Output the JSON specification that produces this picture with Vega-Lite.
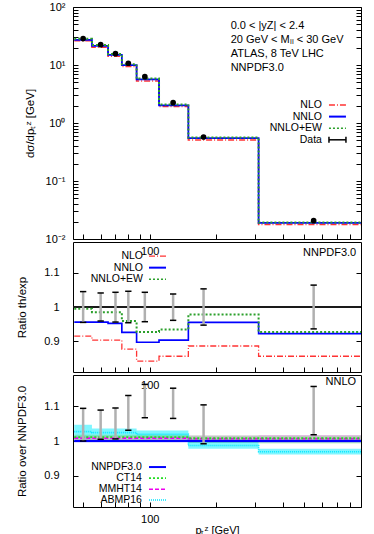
{
  "$schema": "https://vega.github.io/schema/vega-lite/v6.json",
  "padding": {"left": 16, "top": 0, "right": 0, "bottom": 0},
  "bounds": "flush",
  "spacing": 3,
  "datasets": {
    "th": [
      {"x": 45.6, "model": "NLO", "v": 26.1}, {"x": 54.8, "model": "NLO", "v": 20.2}, {"x": 64.8, "model": "NLO", "v": 14.2}, {"x": 74.8, "model": "NLO", "v": 9.38}, {"x": 87.2, "model": "NLO", "v": 5.30}, {"x": 110.1, "model": "NLO", "v": 1.92}, {"x": 149.4, "model": "NLO", "v": 0.509}, {"x": 310.2, "model": "NLO", "v": 0.0177}, {"x": 900, "model": "NLO", "v": 0.0177},
      {"x": 45.6, "model": "NNLO", "v": 27.2}, {"x": 54.8, "model": "NNLO", "v": 21.4}, {"x": 64.8, "model": "NNLO", "v": 14.9}, {"x": 74.8, "model": "NNLO", "v": 9.91}, {"x": 87.2, "model": "NNLO", "v": 5.65}, {"x": 110.1, "model": "NNLO", "v": 2.02}, {"x": 149.4, "model": "NNLO", "v": 0.548}, {"x": 310.2, "model": "NNLO", "v": 0.0190}, {"x": 900, "model": "NNLO", "v": 0.0190},
      {"x": 45.6, "model": "NNLO+EW", "v": 28.4}, {"x": 54.8, "model": "NNLO+EW", "v": 22.1}, {"x": 64.8, "model": "NNLO+EW", "v": 15.5}, {"x": 74.8, "model": "NNLO+EW", "v": 10.3}, {"x": 87.2, "model": "NNLO+EW", "v": 5.84}, {"x": 110.1, "model": "NNLO+EW", "v": 2.09}, {"x": 149.4, "model": "NNLO+EW", "v": 0.561}, {"x": 310.2, "model": "NNLO+EW", "v": 0.0192}, {"x": 900, "model": "NNLO+EW", "v": 0.0192}
    ],
    "rat": [
      {"x": 45.6, "model": "NLO", "r": 0.915}, {"x": 54.8, "model": "NLO", "r": 0.903}, {"x": 64.8, "model": "NLO", "r": 0.903}, {"x": 74.8, "model": "NLO", "r": 0.877}, {"x": 87.2, "model": "NLO", "r": 0.842}, {"x": 110.1, "model": "NLO", "r": 0.856}, {"x": 149.4, "model": "NLO", "r": 0.886}, {"x": 310.2, "model": "NLO", "r": 0.856}, {"x": 900, "model": "NLO", "r": 0.856},
      {"x": 45.6, "model": "NNLO", "r": 0.956}, {"x": 54.8, "model": "NNLO", "r": 0.956}, {"x": 64.8, "model": "NNLO", "r": 0.952}, {"x": 74.8, "model": "NNLO", "r": 0.926}, {"x": 87.2, "model": "NNLO", "r": 0.897}, {"x": 110.1, "model": "NNLO", "r": 0.903}, {"x": 149.4, "model": "NNLO", "r": 0.955}, {"x": 310.2, "model": "NNLO", "r": 0.922}, {"x": 900, "model": "NNLO", "r": 0.922},
      {"x": 45.6, "model": "NNLO+EW", "r": 0.995}, {"x": 54.8, "model": "NNLO+EW", "r": 0.985}, {"x": 64.8, "model": "NNLO+EW", "r": 0.985}, {"x": 74.8, "model": "NNLO+EW", "r": 0.959}, {"x": 87.2, "model": "NNLO+EW", "r": 0.927}, {"x": 110.1, "model": "NNLO+EW", "r": 0.934}, {"x": 149.4, "model": "NNLO+EW", "r": 0.978}, {"x": 310.2, "model": "NNLO+EW", "r": 0.927}, {"x": 900, "model": "NNLO+EW", "r": 0.927}
    ],
    "pts": [
      {"x": 50, "v": 28.5, "lo": 0.955, "hi": 1.045, "c": 1.046, "clo": 1.0, "chi": 1.094},
      {"x": 60, "v": 22.4, "lo": 0.959, "hi": 1.041, "c": 1.046, "clo": 1.005, "chi": 1.089},
      {"x": 70, "v": 15.7, "lo": 0.956, "hi": 1.043, "c": 1.05, "clo": 1.006, "chi": 1.095},
      {"x": 80, "v": 10.7, "lo": 0.954, "hi": 1.046, "c": 1.08, "clo": 1.031, "chi": 1.131},
      {"x": 95, "v": 6.3, "lo": 0.957, "hi": 1.043, "c": 1.115, "clo": 1.067, "chi": 1.163},
      {"x": 127.5, "v": 2.24, "lo": 0.961, "hi": 1.038, "c": 1.107, "clo": 1.065, "chi": 1.152},
      {"x": 175, "v": 0.574, "lo": 0.947, "hi": 1.053, "c": 1.047, "clo": 0.992, "chi": 1.104},
      {"x": 550, "v": 0.0207, "lo": 0.936, "hi": 1.064, "c": 1.087, "clo": 1.018, "chi": 1.157}
    ],
    "pdf": [
      {"x": 45.6, "pdf": "ABMP16", "c": 1.027, "lo": 1.007, "hi": 1.047}, {"x": 54.8, "pdf": "ABMP16", "c": 1.024, "lo": 1.012, "hi": 1.036}, {"x": 64.8, "pdf": "ABMP16", "c": 1.024, "lo": 1.012, "hi": 1.036}, {"x": 74.8, "pdf": "ABMP16", "c": 1.024, "lo": 1.012, "hi": 1.036}, {"x": 87.2, "pdf": "ABMP16", "c": 1.019, "lo": 1.008, "hi": 1.03}, {"x": 110.1, "pdf": "ABMP16", "c": 1.019, "lo": 1.008, "hi": 1.03}, {"x": 149.4, "pdf": "ABMP16", "c": 0.987, "lo": 0.978, "hi": 0.997}, {"x": 310.2, "pdf": "ABMP16", "c": 0.969, "lo": 0.961, "hi": 0.978}, {"x": 900, "pdf": "ABMP16", "c": 0.969, "lo": 0.961, "hi": 0.978},
      {"x": 45.6, "pdf": "MMHT14", "c": 1.008, "lo": 1.001, "hi": 1.015}, {"x": 54.8, "pdf": "MMHT14", "c": 1.008, "lo": 1.001, "hi": 1.015}, {"x": 64.8, "pdf": "MMHT14", "c": 1.008, "lo": 1.001, "hi": 1.015}, {"x": 74.8, "pdf": "MMHT14", "c": 1.008, "lo": 1.001, "hi": 1.015}, {"x": 87.2, "pdf": "MMHT14", "c": 1.008, "lo": 1.001, "hi": 1.015}, {"x": 110.1, "pdf": "MMHT14", "c": 1.008, "lo": 1.001, "hi": 1.015}, {"x": 149.4, "pdf": "MMHT14", "c": 1.007, "lo": 0.998, "hi": 1.016}, {"x": 310.2, "pdf": "MMHT14", "c": 1.007, "lo": 0.998, "hi": 1.017}, {"x": 900, "pdf": "MMHT14", "c": 1.007, "lo": 0.998, "hi": 1.017},
      {"x": 45.6, "pdf": "CT14", "c": 1.011, "lo": 0.999, "hi": 1.018}, {"x": 54.8, "pdf": "CT14", "c": 1.011, "lo": 0.999, "hi": 1.018}, {"x": 64.8, "pdf": "CT14", "c": 1.011, "lo": 0.999, "hi": 1.018}, {"x": 74.8, "pdf": "CT14", "c": 1.011, "lo": 0.999, "hi": 1.018}, {"x": 87.2, "pdf": "CT14", "c": 1.011, "lo": 0.999, "hi": 1.018}, {"x": 110.1, "pdf": "CT14", "c": 1.011, "lo": 0.999, "hi": 1.018}, {"x": 149.4, "pdf": "CT14", "c": 1.008, "lo": 0.994, "hi": 1.016}, {"x": 310.2, "pdf": "CT14", "c": 1.008, "lo": 0.993, "hi": 1.016}, {"x": 900, "pdf": "CT14", "c": 1.008, "lo": 0.993, "hi": 1.016},
      {"x": 45.6, "pdf": "NNPDF3.0", "c": 1.0, "lo": 0.996, "hi": 1.004}, {"x": 54.8, "pdf": "NNPDF3.0", "c": 1.0, "lo": 0.996, "hi": 1.004}, {"x": 64.8, "pdf": "NNPDF3.0", "c": 1.0, "lo": 0.996, "hi": 1.004}, {"x": 74.8, "pdf": "NNPDF3.0", "c": 1.0, "lo": 0.996, "hi": 1.004}, {"x": 87.2, "pdf": "NNPDF3.0", "c": 1.0, "lo": 0.996, "hi": 1.004}, {"x": 110.1, "pdf": "NNPDF3.0", "c": 1.0, "lo": 0.996, "hi": 1.004}, {"x": 149.4, "pdf": "NNPDF3.0", "c": 1.0, "lo": 0.995, "hi": 1.005}, {"x": 310.2, "pdf": "NNPDF3.0", "c": 1.0, "lo": 0.995, "hi": 1.005}, {"x": 900, "pdf": "NNPDF3.0", "c": 1.0, "lo": 0.995, "hi": 1.005}
    ]
  },
  "vconcat": [
    {
      "width": 288, "height": 232,
      "resolve": {"axis": {"y": "independent"}},
      "layer": [
        {
          "data": {"name": "th"},
          "mark": {"type": "line", "interpolate": "step-after"},
          "encoding": {
            "x": {"field": "x", "type": "quantitative", "scale": {"type": "log", "domain": [45, 900], "nice": false},
                  "axis": {"values": [50, 60, 70, 80, 90, 100, 200, 300, 400, 500, 600, 700, 800, 900], "labelExpr": "datum.value == 100 ? '100' : ''", "title": null, "labelPadding": 11}},
            "y": {"field": "v", "type": "quantitative", "scale": {"type": "log", "domain": [0.01, 100], "nice": false},
                  "axis": {"values": [0.01, 0.02, 0.03, 0.04, 0.05, 0.06, 0.07, 0.08, 0.09, 0.1, 0.2, 0.3, 0.4, 0.5, 0.6, 0.7, 0.8, 0.9, 1, 2, 3, 4, 5, 6, 7, 8, 9, 10, 20, 30, 40, 50, 60, 70, 80, 90, 100],
                           "labelExpr": "datum.value == 100 ? '10²' : datum.value == 10 ? '10¹' : datum.value == 1 ? '10⁰' : datum.value == 0.1 ? '10⁻¹' : datum.value == 0.01 ? '10⁻²' : ''",
                           "title": "dσ/dpₜᶻ [GeV]", "labelPadding": 13, "titlePadding": 10, "orient": "left"}},
            "color": {"field": "model", "type": "nominal", "scale": {"domain": ["NLO", "NNLO", "NNLO+EW"], "range": ["#ff3333", "#0000ff", "#2ca02c"]}, "legend": null},
            "strokeDash": {"field": "model", "type": "nominal", "scale": {"domain": ["NLO", "NNLO", "NNLO+EW"], "range": [[6, 2, 1, 2], [1, 0], [2, 2]]}, "legend": null},
            "strokeWidth": {"field": "model", "type": "nominal", "scale": {"domain": ["NLO", "NNLO", "NNLO+EW"], "range": [1.5, 2, 1.6]}, "legend": null}
          }
        },
        {
          "data": {"name": "pts"},
          "mark": {"type": "point", "filled": true, "size": 32, "color": "black", "opacity": 1},
          "encoding": {
            "x": {"field": "x", "type": "quantitative"},
            "y": {"field": "v", "type": "quantitative",
                  "axis": {"orient": "right", "labels": false, "title": null, "values": [0.01, 0.02, 0.03, 0.04, 0.05, 0.06, 0.07, 0.08, 0.09, 0.1, 0.2, 0.3, 0.4, 0.5, 0.6, 0.7, 0.8, 0.9, 1, 2, 3, 4, 5, 6, 7, 8, 9, 10, 20, 30, 40, 50, 60, 70, 80, 90, 100]}}
          }
        },
        {
          "data": {"values": [{}]},
          "mark": {"type": "text", "align": "left", "baseline": "top", "lineHeight": 14, "fontSize": 11, "text": ["0.0 < |yZ| < 2.4", "20 GeV < Mₗₗ < 30 GeV", "ATLAS, 8 TeV LHC", "NNPDF3.0"]},
          "encoding": {"x": {"datum": 232, "type": "quantitative"}, "y": {"datum": 59.7, "type": "quantitative", "axis": null}}
        },
        {"data": {"values": [{}]}, "mark": {"type": "text", "align": "right", "baseline": "middle", "fontSize": 10.5, "text": "NLO"},
         "encoding": {"x": {"datum": 599.6, "type": "quantitative"}, "y": {"datum": 2.043, "type": "quantitative", "axis": null}}},
        {"data": {"values": [{}]}, "mark": {"type": "text", "align": "right", "baseline": "middle", "fontSize": 10.5, "text": "NNLO"},
         "encoding": {"x": {"datum": 599.6, "type": "quantitative"}, "y": {"datum": 1.289, "type": "quantitative", "axis": null}}},
        {"data": {"values": [{}]}, "mark": {"type": "text", "align": "right", "baseline": "middle", "fontSize": 10.5, "text": "NNLO+EW"},
         "encoding": {"x": {"datum": 599.6, "type": "quantitative"}, "y": {"datum": 0.813, "type": "quantitative", "axis": null}}},
        {"data": {"values": [{}]}, "mark": {"type": "text", "align": "right", "baseline": "middle", "fontSize": 10.5, "text": "Data"},
         "encoding": {"x": {"datum": 599.6, "type": "quantitative"}, "y": {"datum": 0.513, "type": "quantitative", "axis": null}}},
        {"data": {"values": [{}]}, "mark": {"type": "rule", "color": "#ff3333", "strokeWidth": 1.5, "strokeDash": [6, 2, 1, 2]},
         "encoding": {"x": {"datum": 645, "type": "quantitative"}, "x2": {"datum": 769.6}, "y": {"datum": 2.043, "type": "quantitative", "axis": null}}},
        {"data": {"values": [{}]}, "mark": {"type": "rule", "color": "#0000ff", "strokeWidth": 2},
         "encoding": {"x": {"datum": 645, "type": "quantitative"}, "x2": {"datum": 769.6}, "y": {"datum": 1.289, "type": "quantitative", "axis": null}}},
        {"data": {"values": [{}]}, "mark": {"type": "rule", "color": "#2ca02c", "strokeWidth": 1.6, "strokeDash": [2, 2]},
         "encoding": {"x": {"datum": 645, "type": "quantitative"}, "x2": {"datum": 769.6}, "y": {"datum": 0.813, "type": "quantitative", "axis": null}}},
        {"data": {"values": [{}]}, "mark": {"type": "rule", "color": "black", "strokeWidth": 1.5},
         "encoding": {"x": {"datum": 645, "type": "quantitative"}, "x2": {"datum": 769.6}, "y": {"datum": 0.513, "type": "quantitative", "axis": null}}},
        {"data": {"values": [{}]}, "mark": {"type": "point", "shape": "M0,-1L0,1", "size": 36, "color": "black", "strokeWidth": 1.5, "opacity": 1},
         "encoding": {"x": {"datum": 645, "type": "quantitative"}, "y": {"datum": 0.513, "type": "quantitative", "axis": null}}},
        {"data": {"values": [{}]}, "mark": {"type": "point", "shape": "M0,-1L0,1", "size": 36, "color": "black", "strokeWidth": 1.5, "opacity": 1},
         "encoding": {"x": {"datum": 769.6, "type": "quantitative"}, "y": {"datum": 0.513, "type": "quantitative", "axis": null}}}
      ]
    },
    {
      "width": 288, "height": 130,
      "resolve": {"axis": {"y": "independent"}},
      "layer": [
        {
          "data": {"values": [{}]},
          "mark": {"type": "rule", "color": "#1a1a1a", "strokeWidth": 2},
          "encoding": {"y": {"datum": 1, "type": "quantitative", "axis": null}}
        },
        {
          "data": {"name": "rat"},
          "mark": {"type": "line", "interpolate": "step-after"},
          "encoding": {
            "x": {"field": "x", "type": "quantitative", "scale": {"type": "log", "domain": [45, 900], "nice": false},
                  "axis": {"values": [50, 60, 70, 80, 90, 100, 200, 300, 400, 500, 600, 700, 800, 900], "labelExpr": "datum.value == 100 ? '100' : ''", "title": null, "labelPadding": 12}},
            "y": {"field": "r", "type": "quantitative", "scale": {"domain": [0.81, 1.19], "nice": false, "zero": false},
                  "axis": {"values": [0.9, 1, 1.1], "labelExpr": "datum.value == 1 ? '1' : format(datum.value, '.1f')", "title": "Ratio th/exp", "labelPadding": 19, "titlePadding": 16, "orient": "left"}},
            "color": {"field": "model", "type": "nominal", "scale": {"domain": ["NLO", "NNLO", "NNLO+EW"], "range": ["#ff3333", "#0000ff", "#2ca02c"]}, "legend": null},
            "strokeDash": {"field": "model", "type": "nominal", "scale": {"domain": ["NLO", "NNLO", "NNLO+EW"], "range": [[6, 2, 1, 2], [1, 0], [2, 2]]}, "legend": null},
            "strokeWidth": {"field": "model", "type": "nominal", "scale": {"domain": ["NLO", "NNLO", "NNLO+EW"], "range": [1.3, 2, 1.6]}, "legend": null}
          }
        },
        {
          "data": {"name": "pts"},
          "mark": {"type": "rule", "color": "#b0b0b0", "strokeWidth": 2.5},
          "encoding": {"x": {"field": "x", "type": "quantitative"}, "y": {"field": "lo", "type": "quantitative", "axis": null}, "y2": {"field": "hi"}}
        },
        {
          "data": {"name": "pts"},
          "mark": {"type": "point", "shape": "stroke", "size": 40, "color": "black", "strokeWidth": 1.5, "opacity": 1},
          "encoding": {"x": {"field": "x", "type": "quantitative"}, "y": {"field": "lo", "type": "quantitative", "axis": null}}
        },
        {
          "data": {"name": "pts"},
          "mark": {"type": "point", "shape": "stroke", "size": 40, "color": "black", "strokeWidth": 1.5, "opacity": 1},
          "encoding": {"x": {"field": "x", "type": "quantitative"}, "y": {"field": "hi", "type": "quantitative", "axis": {"orient": "right", "labels": false, "title": null, "values": [0.9, 1, 1.1]}}}
        },
        {
          "data": {"values": [{}]},
          "mark": {"type": "text", "align": "right", "baseline": "middle", "fontSize": 11, "text": "NNPDF3.0"},
          "encoding": {"x": {"datum": 856, "type": "quantitative"}, "y": {"datum": 1.159, "type": "quantitative", "axis": null}}
        },
        {"data": {"values": [{}]}, "mark": {"type": "text", "align": "right", "baseline": "middle", "fontSize": 10.5, "text": "NLO"},
         "encoding": {"x": {"datum": 93.2, "type": "quantitative"}, "y": {"datum": 1.149, "type": "quantitative", "axis": null}}},
        {"data": {"values": [{}]}, "mark": {"type": "text", "align": "right", "baseline": "middle", "fontSize": 10.5, "text": "NNLO"},
         "encoding": {"x": {"datum": 93.2, "type": "quantitative"}, "y": {"datum": 1.115, "type": "quantitative", "axis": null}}},
        {"data": {"values": [{}]}, "mark": {"type": "text", "align": "right", "baseline": "middle", "fontSize": 10.5, "text": "NNLO+EW"},
         "encoding": {"x": {"datum": 93.2, "type": "quantitative"}, "y": {"datum": 1.081, "type": "quantitative", "axis": null}}},
        {"data": {"values": [{}]}, "mark": {"type": "rule", "color": "#ff3333", "strokeWidth": 1.3, "strokeDash": [6, 2, 1, 2]},
         "encoding": {"x": {"datum": 99.2, "type": "quantitative"}, "x2": {"datum": 118.4}, "y": {"datum": 1.149, "type": "quantitative", "axis": null}}},
        {"data": {"values": [{}]}, "mark": {"type": "rule", "color": "#0000ff", "strokeWidth": 2},
         "encoding": {"x": {"datum": 99.2, "type": "quantitative"}, "x2": {"datum": 118.4}, "y": {"datum": 1.115, "type": "quantitative", "axis": null}}},
        {"data": {"values": [{}]}, "mark": {"type": "rule", "color": "#2ca02c", "strokeWidth": 1.6, "strokeDash": [2, 2]},
         "encoding": {"x": {"datum": 99.2, "type": "quantitative"}, "x2": {"datum": 118.4}, "y": {"datum": 1.081, "type": "quantitative", "axis": null}}}
      ]
    },
    {
      "width": 288, "height": 132,
      "resolve": {"axis": {"y": "independent"}},
      "layer": [
        {
          "data": {"name": "pdf"},
          "transform": [{"filter": "datum.pdf == 'ABMP16'"}],
          "mark": {"type": "area", "interpolate": "step-after", "color": "#00eeff", "opacity": 0.5},
          "encoding": {
            "x": {"field": "x", "type": "quantitative", "scale": {"type": "log", "domain": [45, 900], "nice": false},
                  "axis": {"values": [50, 60, 70, 80, 90, 100, 200, 300, 400, 500, 600, 700, 800, 900], "labelExpr": "datum.value == 100 ? '100' : ''", "title": "pₜᶻ [GeV]", "labelPadding": 11, "titlePadding": 0, "titleFontSize": 11}},
            "y": {"field": "lo", "type": "quantitative", "scale": {"domain": [0.81, 1.19], "nice": false, "zero": false},
                  "axis": {"values": [0.9, 1, 1.1], "labelExpr": "datum.value == 1 ? '1' : format(datum.value, '.1f')", "title": "Ratio over NNPDF3.0", "labelPadding": 19, "titlePadding": 16, "orient": "left"}},
            "y2": {"field": "hi"}
          }
        },
        {
          "data": {"name": "pdf"},
          "transform": [{"filter": "datum.pdf == 'MMHT14'"}],
          "mark": {"type": "area", "interpolate": "step-after", "color": "#ff33ff", "opacity": 0.35},
          "encoding": {"x": {"field": "x", "type": "quantitative"}, "y": {"field": "lo", "type": "quantitative", "axis": null}, "y2": {"field": "hi"}}
        },
        {
          "data": {"name": "pdf"},
          "transform": [{"filter": "datum.pdf == 'CT14'"}],
          "mark": {"type": "area", "interpolate": "step-after", "color": "#33ee33", "opacity": 0.3},
          "encoding": {"x": {"field": "x", "type": "quantitative"}, "y": {"field": "lo", "type": "quantitative", "axis": null}, "y2": {"field": "hi"}}
        },
        {
          "data": {"name": "pdf"},
          "transform": [{"filter": "datum.pdf == 'NNPDF3.0'"}],
          "mark": {"type": "area", "interpolate": "step-after", "color": "#3333ff", "opacity": 0.35},
          "encoding": {"x": {"field": "x", "type": "quantitative"}, "y": {"field": "lo", "type": "quantitative", "axis": null}, "y2": {"field": "hi"}}
        },
        {
          "data": {"name": "pdf"},
          "mark": {"type": "line", "interpolate": "step-after"},
          "encoding": {
            "x": {"field": "x", "type": "quantitative"},
            "y": {"field": "c", "type": "quantitative", "axis": null},
            "color": {"field": "pdf", "type": "nominal", "scale": {"domain": ["NNPDF3.0", "CT14", "MMHT14", "ABMP16"], "range": ["#0000ff", "#22dd22", "#ee00ee", "#00e5ff"]}, "legend": null},
            "strokeDash": {"field": "pdf", "type": "nominal", "scale": {"domain": ["NNPDF3.0", "CT14", "MMHT14", "ABMP16"], "range": [[1, 0], [2, 2], [4, 2], [1, 1]]}, "legend": null},
            "strokeWidth": {"field": "pdf", "type": "nominal", "scale": {"domain": ["NNPDF3.0", "CT14", "MMHT14", "ABMP16"], "range": [2, 1.6, 1.6, 1.6]}, "legend": null}
          }
        },
        {
          "data": {"name": "pts"},
          "mark": {"type": "rule", "color": "#b0b0b0", "strokeWidth": 2.5},
          "encoding": {"x": {"field": "x", "type": "quantitative"}, "y": {"field": "clo", "type": "quantitative", "axis": null}, "y2": {"field": "chi"}}
        },
        {
          "data": {"name": "pts"},
          "mark": {"type": "point", "shape": "stroke", "size": 40, "color": "black", "strokeWidth": 1.5, "opacity": 1},
          "encoding": {"x": {"field": "x", "type": "quantitative"}, "y": {"field": "clo", "type": "quantitative", "axis": null}}
        },
        {
          "data": {"name": "pts"},
          "mark": {"type": "point", "shape": "stroke", "size": 40, "color": "black", "strokeWidth": 1.5, "opacity": 1},
          "encoding": {"x": {"field": "x", "type": "quantitative"}, "y": {"field": "chi", "type": "quantitative", "axis": {"orient": "right", "labels": false, "title": null, "values": [0.9, 1, 1.1]}}}
        },
        {
          "data": {"values": [{}]},
          "mark": {"type": "text", "align": "right", "baseline": "middle", "fontSize": 11, "text": "NNLO"},
          "encoding": {"x": {"datum": 856, "type": "quantitative"}, "y": {"datum": 1.169, "type": "quantitative", "axis": null}}
        },
        {"data": {"values": [{}]}, "mark": {"type": "text", "align": "right", "baseline": "middle", "fontSize": 10.5, "text": "NNPDF3.0"},
         "encoding": {"x": {"datum": 92.2, "type": "quantitative"}, "y": {"datum": 0.925, "type": "quantitative", "axis": null}}},
        {"data": {"values": [{}]}, "mark": {"type": "text", "align": "right", "baseline": "middle", "fontSize": 10.5, "text": "CT14"},
         "encoding": {"x": {"datum": 92.2, "type": "quantitative"}, "y": {"datum": 0.893, "type": "quantitative", "axis": null}}},
        {"data": {"values": [{}]}, "mark": {"type": "text", "align": "right", "baseline": "middle", "fontSize": 10.5, "text": "MMHT14"},
         "encoding": {"x": {"datum": 92.2, "type": "quantitative"}, "y": {"datum": 0.861, "type": "quantitative", "axis": null}}},
        {"data": {"values": [{}]}, "mark": {"type": "text", "align": "right", "baseline": "middle", "fontSize": 10.5, "text": "ABMP16"},
         "encoding": {"x": {"datum": 92.2, "type": "quantitative"}, "y": {"datum": 0.83, "type": "quantitative", "axis": null}}},
        {"data": {"values": [{}]}, "mark": {"type": "rule", "color": "#0000ff", "strokeWidth": 2},
         "encoding": {"x": {"datum": 99.2, "type": "quantitative"}, "x2": {"datum": 118.4}, "y": {"datum": 0.925, "type": "quantitative", "axis": null}}},
        {"data": {"values": [{}]}, "mark": {"type": "rule", "color": "#22dd22", "strokeWidth": 1.6, "strokeDash": [2, 2]},
         "encoding": {"x": {"datum": 99.2, "type": "quantitative"}, "x2": {"datum": 118.4}, "y": {"datum": 0.893, "type": "quantitative", "axis": null}}},
        {"data": {"values": [{}]}, "mark": {"type": "rule", "color": "#ee00ee", "strokeWidth": 1.6, "strokeDash": [4, 2]},
         "encoding": {"x": {"datum": 99.2, "type": "quantitative"}, "x2": {"datum": 118.4}, "y": {"datum": 0.861, "type": "quantitative", "axis": null}}},
        {"data": {"values": [{}]}, "mark": {"type": "rule", "color": "#00e5ff", "strokeWidth": 1.6, "strokeDash": [1, 1]},
         "encoding": {"x": {"datum": 99.2, "type": "quantitative"}, "x2": {"datum": 118.4}, "y": {"datum": 0.83, "type": "quantitative", "axis": null}}}
      ]
    }
  ],
  "resolve": {
    "scale": {"color": "independent", "strokeDash": "independent", "strokeWidth": "independent"}
  },
  "config": {
    "font": "Liberation Sans",
    "view": {"stroke": "black", "strokeWidth": 1},
    "axis": {"domain": false, "grid": false, "tickColor": "black", "tickSize": -5, "labelColor": "black", "labelFontSize": 11, "labelFont": "Liberation Sans", "titleColor": "black", "titleFontSize": 11.5, "titleFontWeight": "normal", "titleFont": "Liberation Sans", "labelOverlap": false, "labelFlush": false},
    "text": {"font": "Liberation Sans", "color": "black"}
  }
}
